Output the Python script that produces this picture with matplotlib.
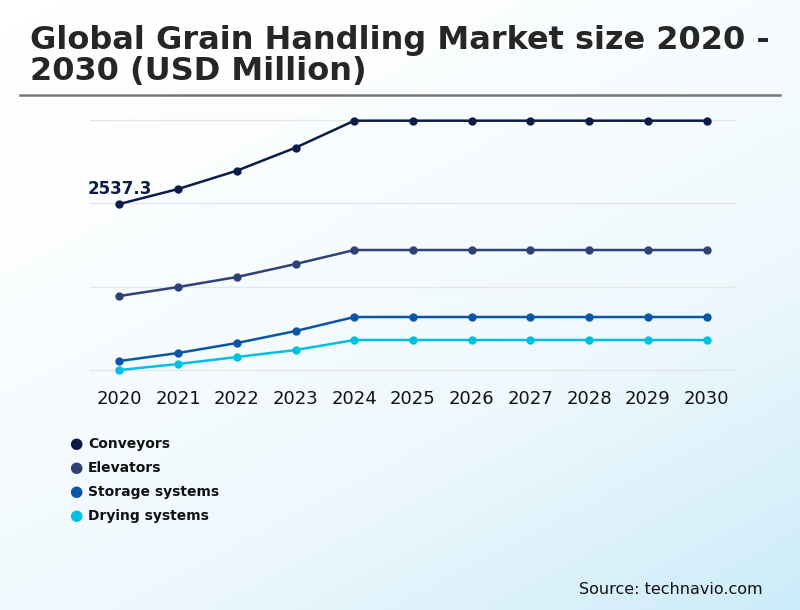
import numpy as np
import matplotlib
matplotlib.use("Agg")
import matplotlib.pyplot as plt
from matplotlib.colors import LinearSegmentedColormap
from matplotlib.lines import Line2D

plt.rcParams['font.family'] = ['DejaVu Sans']

years = [2020, 2021, 2022, 2023, 2024, 2025, 2026, 2027, 2028, 2029, 2030]
conveyors = [2537.3, 2717, 2937, 3213, 3537, 3537, 3537, 3537, 3537, 3537, 3537]
elevators = [1433, 1541, 1661, 1817, 1985, 1985, 1985, 1985, 1985, 1985, 1985]
storage = [653, 749, 869, 1013, 1181, 1181, 1181, 1181, 1181, 1181, 1181]
drying = [545, 617, 701, 785, 905, 905, 905, 905, 905, 905, 905]
series_names = ["Conveyors", "Elevators", "Storage systems", "Drying systems"]
series_values = [conveyors, elevators, storage, drying]
colors = ["#0b1c48", "#2f4277", "#0a56a6", "#00c0e2"]
grid_ticks = [545.3, 1545.3, 2545.3, 3545.3]

fig = plt.figure(figsize=(8, 6.1), dpi=100)

# background gradient
bg = fig.add_axes([0, 0, 1, 1], zorder=0)
xx, yy = np.meshgrid(np.linspace(0, 1, 200), np.linspace(0, 1, 200))
t = np.clip((xx * 0.55 + yy * 0.8) / 1.35, 0, 1) ** 1.6
cmap = LinearSegmentedColormap.from_list("bg", ["#ffffff", "#eef8fd", "#cbecf9"])
bg.imshow(t, cmap=cmap, extent=[0, 1, 0, 1], origin="upper", aspect="auto", vmin=0, vmax=1)
bg.axis("off")

# title
fig.text(30 / 800, 1 - 25 / 610, "Global Grain Handling Market size 2020 -\n2030 (USD Million)",
         fontsize=23, fontweight="bold", color="#262626", ha="left", va="top",
         linespacing=1.02)
fig.add_artist(Line2D([20 / 800, 780 / 800], [1 - 95 / 610, 1 - 95 / 610],
                      color="#777777", linewidth=1.8))

# main axes: px x 90..736, y 110..380
ax = fig.add_axes([90 / 800, 1 - 380 / 610, 646 / 800, 270 / 610], zorder=1)
ax.patch.set_alpha(0)
for name, vals, c in zip(series_names, series_values, colors):
    ax.plot(years, vals, color=c, linewidth=1.8, marker="o", markersize=5,
            clip_on=False, label=name, zorder=3)

ax.set_xlim(2019.5, 2030.5)
ax.set_ylim(425.3, 3665.3)
ax.set_yticks(grid_ticks)
ax.set_yticklabels([])
ax.set_xticks(years)
ax.set_xticklabels([str(y) for y in years], fontsize=13, color="#111111")
ax.tick_params(axis="both", length=0, pad=7)
ax.grid(axis="y", color="#e3e6ea", linewidth=1)
ax.grid(axis="x", visible=False)
for s in ax.spines.values():
    s.set_visible(False)

ax.annotate(f"{conveyors[0]}", (years[0], conveyors[0]), xytext=(0, 4),
            textcoords="offset points", ha="center", va="bottom",
            fontsize=12, fontweight="bold", color="#0b1c48")

# legend
for i, (name, c) in enumerate(zip(series_names, colors)):
    y = 1 - (444 + 24 * i) / 610
    fig.text(76 / 800, y, "\u25cf", color=c, fontsize=11, ha="center", va="center",
             zorder=2)
    fig.text(88 / 800, y, name, color="#111111", fontsize=10, fontweight="bold",
             ha="left", va="center", zorder=2)

fig.text(763 / 800, 1 - 589 / 610, "Source: technavio.com", fontsize=11.5,
         color="#111111", ha="right", va="center")

fig.savefig("out.png", dpi=100)
